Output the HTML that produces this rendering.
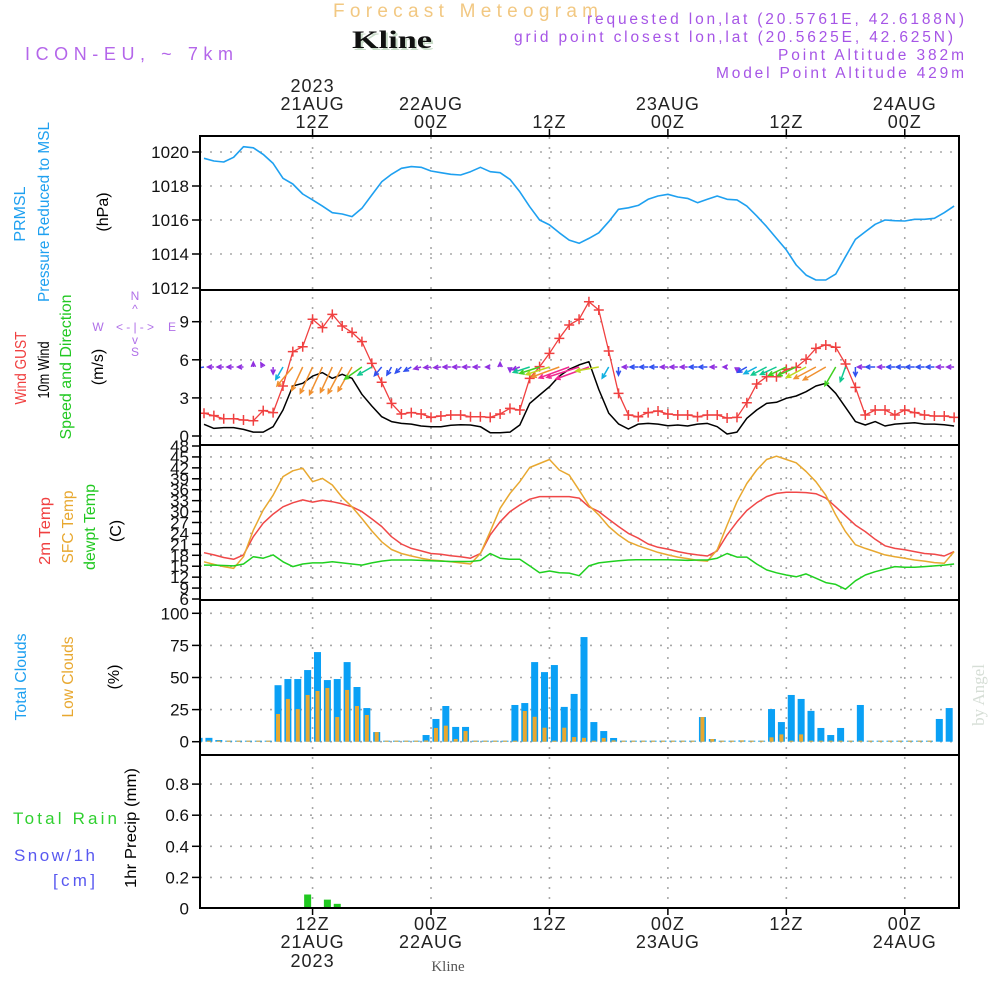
<!DOCTYPE html>
<html><head><meta charset="utf-8"><title>Forecast Meteogram - Kline</title>
<style>
html,body{margin:0;padding:0;background:#fff;}
svg{display:block;}
text{font-family:"Liberation Sans",sans-serif;}
</style></head>
<body>
<svg id="chart" xmlns="http://www.w3.org/2000/svg" width="1000" height="1000" viewBox="0 0 1000 1000">
<defs><clipPath id="plotclip"><rect x="200" y="136" width="760" height="772"/></clipPath></defs>
<rect x="0" y="0" width="1000" height="1000" fill="#fff"/>
<g id="grid"></g>
<g id="axes"></g>
<g id="marks" clip-path="url(#plotclip)"></g>
<g id="frames" fill="none" stroke="#000" stroke-width="2">
  <rect x="200" y="136" width="759" height="154"/>
  <rect x="200" y="290" width="759" height="155"/>
  <rect x="200" y="445" width="759" height="155"/>
  <rect x="200" y="600" width="759" height="155"/>
  <rect x="200" y="755" width="759" height="153"/>
</g>

<!-- header -->
<text x="333" y="17" font-size="19" fill="#f2c882" textLength="265" lengthAdjust="spacing">Forecast Meteogram</text>
<text x="354" y="50" font-size="25" font-weight="bold" fill="#c9dcc9" style="font-family:'Liberation Serif',serif" textLength="80" lengthAdjust="spacingAndGlyphs">Kline</text>
<text x="352" y="48" font-size="25" font-weight="bold" fill="#111" style="font-family:'Liberation Serif',serif" textLength="80" lengthAdjust="spacingAndGlyphs">Kline</text>
<text x="25" y="60" font-size="18" fill="#b466ea" textLength="208" lengthAdjust="spacing">ICON-EU, ~ 7km</text>
<text x="587" y="24" font-size="15.5" fill="#a655e6" textLength="377" lengthAdjust="spacing">requested lon,lat (20.5761E, 42.6188N)</text>
<text x="514" y="42" font-size="15.5" fill="#a655e6" textLength="439" lengthAdjust="spacing">grid point closest lon,lat (20.5625E, 42.625N)</text>
<text x="778" y="60" font-size="15.5" fill="#a655e6" textLength="186" lengthAdjust="spacing">Point Altitude 382m</text>
<text x="716" y="78" font-size="15.5" fill="#a655e6" textLength="248" lengthAdjust="spacing">Model Point Altitude 429m</text>

<!-- left panel titles -->
<g font-size="16">
  <text transform="translate(25,214) rotate(-90)" text-anchor="middle" fill="#1ea0f0">PRMSL</text>
  <text transform="translate(49,212) rotate(-90)" text-anchor="middle" fill="#1ea0f0" textLength="180" lengthAdjust="spacingAndGlyphs">Pressure Reduced to MSL</text>
  <text transform="translate(108,212) rotate(-90)" text-anchor="middle" fill="#000">(hPa)</text>

  <text transform="translate(26,368) rotate(-90)" text-anchor="middle" fill="#f04040" textLength="73" lengthAdjust="spacingAndGlyphs">Wind GUST</text>
  <text transform="translate(49,370) rotate(-90)" text-anchor="middle" fill="#000" textLength="57" lengthAdjust="spacingAndGlyphs">10m Wind</text>
  <text transform="translate(71,367) rotate(-90)" text-anchor="middle" fill="#22c822" textLength="145" lengthAdjust="spacingAndGlyphs">Speed and Direction</text>
  <text transform="translate(103,367) rotate(-90)" text-anchor="middle" fill="#000">(m/s)</text>

  <text transform="translate(50,531) rotate(-90)" text-anchor="middle" fill="#f04040" textLength="68" lengthAdjust="spacingAndGlyphs">2m Temp</text>
  <text transform="translate(73,527) rotate(-90)" text-anchor="middle" fill="#e8a830" textLength="73" lengthAdjust="spacingAndGlyphs">SFC Temp</text>
  <text transform="translate(95,527) rotate(-90)" text-anchor="middle" fill="#22c822" textLength="86" lengthAdjust="spacingAndGlyphs">dewpt Temp</text>
  <text transform="translate(121,531) rotate(-90)" text-anchor="middle" fill="#000">(C)</text>

  <text transform="translate(26,677) rotate(-90)" text-anchor="middle" fill="#1ea0f0" textLength="87" lengthAdjust="spacingAndGlyphs">Total Clouds</text>
  <text transform="translate(73,677) rotate(-90)" text-anchor="middle" fill="#e8a830" textLength="81" lengthAdjust="spacingAndGlyphs">Low Clouds</text>
  <text transform="translate(119,677) rotate(-90)" text-anchor="middle" fill="#000">(%)</text>

  <text transform="translate(136,828) rotate(-90)" text-anchor="middle" fill="#000" textLength="120" lengthAdjust="spacingAndGlyphs">1hr Precip (mm)</text>
  <text x="13" y="824" font-size="17" fill="#30d030" textLength="104" lengthAdjust="spacing">Total    Rain</text>
  <text x="14" y="861" font-size="17" fill="#5858f0" textLength="81" lengthAdjust="spacing">Snow/1h</text>
  <text x="53" y="886" font-size="17" fill="#5858f0" textLength="42" lengthAdjust="spacing">[cm]</text>
</g>

<!-- compass -->
<g fill="#b070e8" font-size="12" text-anchor="middle">
  <text x="135" y="300">N</text>
  <text x="135" y="313">^</text>
  <text x="98" y="331">W</text>
  <text x="135" y="331" textLength="38" lengthAdjust="spacing">&lt;-|-&gt;</text>
  <text x="172" y="331">E</text>
  <text x="135" y="344">v</text>
  <text x="135" y="356">S</text>
</g>

<text x="448" y="971" font-size="15" fill="#555" text-anchor="middle" style="font-family:'Liberation Serif',serif">Kline</text>
<text transform="translate(984,695) rotate(-90)" font-size="17" fill="#d6ded6" text-anchor="middle" style="font-family:'Liberation Serif',serif">by Angel</text>
</svg>

<script>
const pressure=[1019.63,1019.47,1019.41,1019.69,1020.31,1020.25,1019.86,1019.33,1018.45,1018.12,1017.53,1017.18,1016.82,1016.43,1016.35,1016.2,1016.69,1017.47,1018.25,1018.69,1019.04,1019.14,1019.1,1018.88,1018.78,1018.69,1018.65,1018.84,1019.1,1018.84,1018.78,1018.39,1017.66,1016.78,1016.0,1015.71,1015.25,1014.82,1014.63,1014.92,
1015.25,1015.9,1016.63,1016.72,1016.86,1017.22,1017.41,1017.51,1017.35,1017.27,1017.02,1017.22,1017.41,1017.22,1017.18,1016.82,1016.24,1015.61,1014.92,1014.24,1013.35,1012.76,1012.47,1012.47,1012.82,1013.84,1014.86,1015.31,1015.75,1016.0,1015.96,1015.94,1016.04,1016.04,1016.1,1016.43,1016.82];
const gust=[1.79,1.6,1.36,1.36,1.26,1.2,2.0,1.84,3.94,6.64,7.03,9.19,8.53,9.58,8.66,8.16,7.43,5.72,4.23,2.57,1.73,1.84,1.73,1.47,1.57,1.65,1.65,1.52,1.52,1.47,1.73,2.18,2.05,4.54,5.46,6.51,7.69,8.74,9.19,10.57,
9.92,6.69,3.36,1.65,1.52,1.84,1.97,1.73,1.65,1.65,1.52,1.65,1.65,1.42,1.47,2.62,4.09,4.67,4.67,5.25,5.4,6.04,6.9,7.17,6.99,5.67,3.83,1.65,2.05,2.05,1.65,2.05,1.84,1.65,1.57,1.57,1.47];
const windSpeed=[0.92,0.6,0.66,0.66,0.52,0.31,0.31,0.73,2.05,3.94,4.15,4.72,4.99,4.54,4.86,4.54,3.28,2.36,1.52,1.13,0.99,0.94,0.79,0.73,0.73,0.84,0.89,0.87,0.73,0.26,0.26,0.31,0.87,2.57,3.23,3.88,4.72,5.25,5.6,5.85,
3.66,1.8,0.95,0.55,0.94,0.99,0.94,0.81,0.87,0.79,0.94,0.99,0.73,0.16,0.31,1.39,2.05,2.57,2.65,2.97,3.15,3.49,3.94,4.15,3.36,2.26,1.13,0.87,1.13,0.79,0.94,0.99,1.05,0.94,0.94,0.89,0.79];
const windDir=[80,90,90,90,90,180,150,0,
30,40,25,25,25,25,28,30,55,60,40,
30,45,60,75,85,85,90,90,90,90,90,180,0,
70,72,72,72,70,70,72,70,
80,30,0,90,90,90,90,90,90,90,90,90,90,90,0,
60,62,62,65,65,65,62,62,60,30,20,0,
90,90,90,90,90,90,90,90,90,90];
const temp2m=[18.7,18.1,17.4,16.9,18.1,23.1,26.8,29.3,31.3,32.4,33.2,32.6,33.1,32.7,32.1,31.3,30.0,28.0,25.9,23.1,21.1,19.9,19.2,18.5,18.3,17.9,17.6,17.2,18.5,23.6,27.2,30.0,31.8,33.4,34.1,34.1,34.1,34.1,33.7,31.3,
30.0,27.9,25.9,24.0,22.7,21.1,20.2,19.7,19.0,18.5,18.1,17.8,19.2,23.6,27.2,30.3,32.4,34.1,35.0,35.3,35.3,35.2,34.9,33.7,31.3,28.8,26.3,24.5,22.4,20.6,19.9,19.5,19.0,18.5,18.3,17.8,19.0];
const tempSfc=[16.2,15.5,14.9,14.4,17.6,24.9,30.4,34.5,39.6,41.2,41.9,38.2,39.1,37.3,33.9,31.3,28.1,24.7,21.7,19.6,18.5,17.8,17.2,16.7,16.5,16.2,15.9,15.6,18.5,24.5,30.9,35.0,38.2,42.1,43.2,44.3,41.4,40.0,35.9,31.7,
29.1,25.9,23.6,21.7,20.6,19.7,18.8,18.1,17.5,17.1,16.6,16.4,19.5,26.3,32.7,37.7,41.4,44.3,45.2,44.3,43.4,41.0,38.2,34.5,29.1,24.5,20.9,19.9,19.0,18.1,17.6,17.2,16.7,16.4,16.0,15.8,19.0];
const dewpt=[15.3,15.3,15.2,15.1,15.6,17.6,17.2,18.1,16.2,14.9,15.6,15.9,15.9,16.2,15.9,15.6,15.3,15.9,16.4,16.7,16.7,16.7,16.6,16.5,16.4,16.3,16.3,16.3,16.6,18.5,17.2,16.9,16.9,15.1,13.2,13.7,13.2,13.1,12.4,15.1,
15.9,16.2,16.5,16.7,16.8,16.8,16.8,16.8,16.7,16.6,16.7,16.7,17.2,18.5,17.5,17.5,15.6,14.0,13.2,12.6,12.1,12.9,11.7,10.5,10.0,8.7,11.0,12.6,13.5,14.2,14.9,14.7,14.7,14.9,15.1,15.3,15.6];
const cloudTotal=[3,3,1.3,0,0,0,0,0,44,48.8,48.8,55.8,69.8,48,48.8,62,42.6,26.2,7.5,0,0,0,0,5.2,17.7,27.8,11.5,11.5,0,0,0,0,28.6,30.1,62,54.2,59.7,27.1,37.2,81.5,
15.3,8.3,2.9,0,0,0,0,0,0,0,0,19.2,2.1,0,0,1,0,0,25.4,15.3,36.4,33.3,24,10.7,5.2,10.7,0,28.6,0,0,0,0,0,0,0,17.7,26.2];
const cloudLow=[0,0,0,0,0,0,0,0,21.6,33.3,25.4,36.4,39.5,41.8,19.2,40.3,27.8,20.8,7.5,0,0,0,0,1,10.7,12.5,2.1,8.3,0,0,0,0,0,23.9,19.4,10.9,0.5,10.9,3.6,3,
0,2.9,1,0,0,0,0,0,0,0,0,19.2,2.1,0,0,1,0,0,3.4,5.7,0,5.7,0,0,0,0,0,0,0,0,0,0,0,0,0];
const precip=[0,0,0,0,0,0,0,0,0,0,0,0.09,0.005,0.057,0.03,0.003,0,0,0,0,0,0,0,0,0,0,0,0,0,0,0,0,0,0,0,0,0,0,0,0,
0,0,0,0,0,0,0,0,0,0,0,0,0,0,0,0,0,0,0,0,0,0,0,0,0,0,0,0,0,0,0,0,0,0,0,0,0];
const timeTickIdx=[11,23,35,47,59,71];
const topLine1=["2023","","","","",""];
const topLine2=["21AUG","22AUG","","23AUG","","24AUG"];
const topLine3=["12Z","00Z","12Z","00Z","12Z","00Z"];
const botLine1=["12Z","00Z","12Z","00Z","12Z","00Z"];
const botLine2=["21AUG","22AUG","","23AUG","","24AUG"];
const botLine3=["2023","","","","",""];
const pTicks=[1012,1014,1016,1018,1020];
const wTicks=[0,3,6,9];
const tTicks=[6,9,12,15,18,21,24,27,30,33,36,39,42,45,48];
const cTicks=[0,25,50,75,100];
const rTicks=[0.2,0.4,0.6,0.8];

const NS="http://www.w3.org/2000/svg";
function xAt(i){return 204+i*9.87;}
function xBar(k){return xAt(k-0.5);}
function yP(p){return 152+(1020-p)*17;}
function yW(v){return 436-v*12.7;}
function yT(t){return 446+(48-t)*3.643;}
function yC(c){return 741.7-c*1.284;}
function yR(r){return 908.5-r*155.5;}

const grid=document.getElementById('grid');
const axes=document.getElementById('axes');
const marks=document.getElementById('marks');

function hgrid(vals,yf,name,label,lo,hi){
  vals.forEach(function(v){
    const y=yf(v);
    if(y>lo+2&&y<hi-2){
      const g=document.createElementNS(NS,'line');
      g.setAttribute('x1',200);g.setAttribute('x2',959);g.setAttribute('y1',y);g.setAttribute('y2',y);
      g.setAttribute('stroke','#a8a8a8');g.setAttribute('stroke-width','1.6');g.setAttribute('stroke-dasharray','2 8');
      
      
      grid.appendChild(g);
    }
    const t=document.createElementNS(NS,'line');
    t.setAttribute('x1',192);t.setAttribute('x2',200);t.setAttribute('y1',y);t.setAttribute('y2',y);
    t.setAttribute('stroke','#000');t.setAttribute('stroke-width','1.5');
    
    
    axes.appendChild(t);
    const tx=document.createElementNS(NS,'text');
    tx.setAttribute('x',189);tx.setAttribute('y',y+6);tx.setAttribute('text-anchor','end');
    tx.setAttribute('font-size','17');tx.setAttribute('fill','#111');
    tx.textContent=label(v);
    
    
    axes.appendChild(tx);
  });
}
hgrid(pTicks,yP,'pressure-axis',function(v){return String(v);},136,290);
hgrid(wTicks,yW,'wind-axis',function(v){return String(v);},290,445);
hgrid(tTicks,yT,'temperature-axis',function(v){return String(v);},445,600);
hgrid(cTicks,yC,'cloud-axis',function(v){return String(v);},600,755);
hgrid(rTicks,yR,'precip-axis',function(v){return v.toFixed(1);},755,908);
(function(){
  const tx=document.createElementNS(NS,'text');
  tx.setAttribute('x',189);tx.setAttribute('y',yR(0)+6);tx.setAttribute('text-anchor','end');
  tx.setAttribute('font-size','17');tx.setAttribute('fill','#111');
  tx.textContent='0';
  
  
  axes.appendChild(tx);
})();

timeTickIdx.forEach(function(idx,j){
  const x=xAt(idx);
  const v=document.createElementNS(NS,'line');
  v.setAttribute('x1',x);v.setAttribute('x2',x);v.setAttribute('y1',137);v.setAttribute('y2',907);
  v.setAttribute('stroke','#a8a8a8');v.setAttribute('stroke-width','1.6');v.setAttribute('stroke-dasharray','2 8');
  
  
  grid.appendChild(v);
  [[129,136],[908,915]].forEach(function(p){
    const t=document.createElementNS(NS,'line');
    t.setAttribute('x1',x);t.setAttribute('x2',x);t.setAttribute('y1',p[0]);t.setAttribute('y2',p[1]);
    t.setAttribute('stroke','#000');t.setAttribute('stroke-width','1.5');
    
    
    axes.appendChild(t);
  });
  const rows=[[topLine1[j],92],[topLine2[j],110],[topLine3[j],128],[botLine1[j],930],[botLine2[j],948],[botLine3[j],967]];
  rows.forEach(function(r){
    if(!r[0])return;
    const tx=document.createElementNS(NS,'text');
    tx.setAttribute('x',x);tx.setAttribute('y',r[1]);tx.setAttribute('text-anchor','middle');
    tx.setAttribute('font-size','18');tx.setAttribute('fill','#222');tx.setAttribute('letter-spacing','1');
    tx.textContent=r[0];
    
    
    axes.appendChild(tx);
  });
});

function series(arr,yf,color,name,w){
  const pts=arr.map(function(v,i){return xAt(i).toFixed(1)+','+yf(v).toFixed(1);}).join(' ');
  const el=document.createElementNS(NS,'polyline');
  el.setAttribute('points',pts);el.setAttribute('fill','none');el.setAttribute('stroke',color);
  el.setAttribute('stroke-width',w||1.6);el.setAttribute('stroke-linejoin','round');
  
  
  marks.appendChild(el);
}
function bars(arr,yf,base,color,width,name,minH){
  arr.forEach(function(v,k){
    const y=yf(v);let h=base-y;if(h<minH){h=minH;}
    const r=document.createElementNS(NS,'rect');
    r.setAttribute('x',xBar(k)-width/2);r.setAttribute('y',base-h);r.setAttribute('width',width);r.setAttribute('height',h);
    r.setAttribute('fill',color);
    
    
    marks.appendChild(r);
  });
}

series(pressure,yP,'#1ea0f0','pressure-line',1.6);
series(windSpeed,yW,'#000','wind-speed-line',1.5);
series(gust,yW,'#f04040','wind-gust-line',1.3);
gust.forEach(function(v,i){
  const x=xAt(i),y=yW(v);
  const m=document.createElementNS(NS,'path');
  m.setAttribute('d','M'+(x-5)+' '+y+'H'+(x+5)+'M'+x+' '+(y-5)+'V'+(y+5));
  m.setAttribute('stroke','#f04040');m.setAttribute('stroke-width','1.5');
  
  
  marks.appendChild(m);
});
function speedColor(s){
  if(s<0.9)return '#9030e0';
  if(s<1.6)return '#3050f0';
  if(s<2.2)return '#10b0e0';
  if(s<2.8)return '#10c890';
  if(s<3.4)return '#40d020';
  if(s<3.9)return '#c0d820';
  if(s<5.0)return '#f09030';
  return '#f02890';
}
windSpeed.forEach(function(s,i){
  const D=windDir[i]*Math.PI/180;
  const L=3+5.5*s;
  const x0=xAt(i),y0=367;
  const dx=-Math.sin(D)*L,dy=Math.cos(D)*L;
  const x1=x0+dx,y1=y0+dy;
  const ux=-dx/L,uy=-dy/L,a=0.45,hl=5;
  const h1x=x1+hl*(ux*Math.cos(a)-uy*Math.sin(a)),h1y=y1+hl*(ux*Math.sin(a)+uy*Math.cos(a));
  const h2x=x1+hl*(ux*Math.cos(-a)-uy*Math.sin(-a)),h2y=y1+hl*(ux*Math.sin(-a)+uy*Math.cos(-a));
  const p=document.createElementNS(NS,'path');
  p.setAttribute('d','M'+x0.toFixed(1)+' '+y0+'L'+x1.toFixed(1)+' '+y1.toFixed(1)+'M'+h1x.toFixed(1)+' '+h1y.toFixed(1)+'L'+x1.toFixed(1)+' '+y1.toFixed(1)+'L'+h2x.toFixed(1)+' '+h2y.toFixed(1));
  p.setAttribute('stroke',speedColor(s));p.setAttribute('stroke-width','1.5');p.setAttribute('fill','none');
  
  
  marks.appendChild(p);
});
series(temp2m,yT,'#f04848','temp-2m-line',1.5);
series(tempSfc,yT,'#e8a830','temp-sfc-line',1.5);
series(dewpt,yT,'#20d020','dewpoint-line',1.5);
bars(cloudTotal,yC,yC(0),'#0aa0f5',7,'total-cloud-bar',1);
bars(cloudLow,yC,yC(0),'#e8a830',4,'low-cloud-bar',1);
bars(precip,yR,yR(0),'#20c820',7,'precip-bar',0);
</script>
</body></html>
